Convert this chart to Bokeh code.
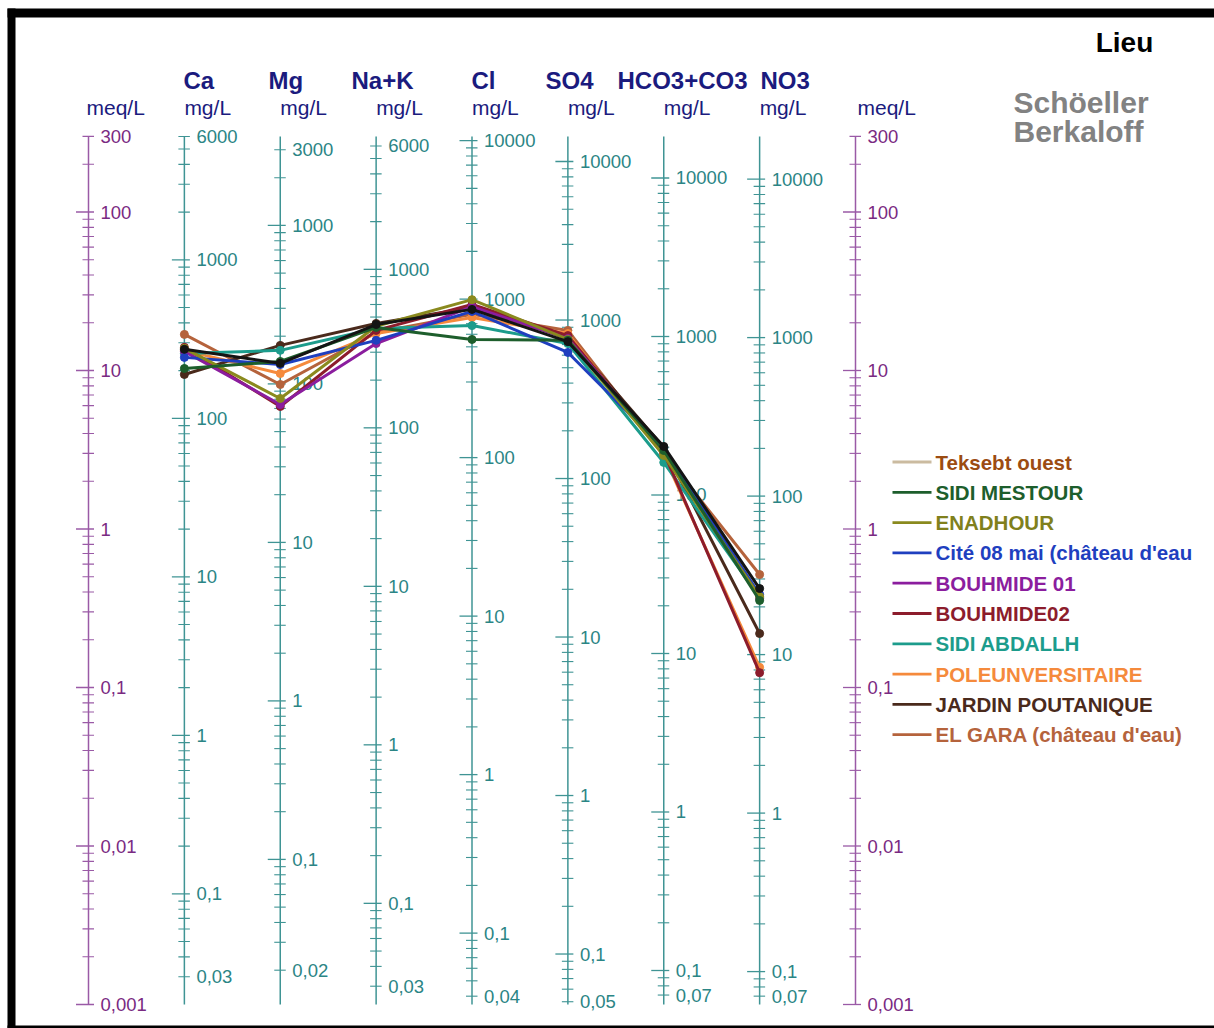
import numpy as np
from bokeh.plotting import figure
from bokeh.models import Range1d
from bokeh.embed import file_html
from bokeh.resources import INLINE
from bokeh.core.properties import value

# ---------------- data ----------------
ions = ["Ca", "Mg", "Na+K", "Cl", "SO4", "HCO3+CO3", "NO3"]
eq_weight = [20.04, 12.15, 23.0, 35.45, 48.03, 61.02, 62.0]   # mg per meq
axis_top_mg = [6000, 3000, 6000, 10000, 10000, 10000, 10000]
axis_bottom_mg = [0.03, 0.02, 0.03, 0.04, 0.05, 0.07, 0.07]
meq_top, meq_bottom = 300, 0.001

names = ["Teksebt ouest", "SIDI MESTOUR", "ENADHOUR", "Cité 08 mai  (château d'eau",
         "BOUHMIDE 01", "BOUHMIDE02", "SIDI ABDALLH", "POLEUNVERSITAIRE",
         "JARDIN POUTANIQUE", "EL GARA (château d'eau)"]

# values in meq/L  (Ca, Mg, Na+K, Cl, SO4, HCO3+CO3, NO3)
teksebt      = [13.6, 11.1, 19.5, 24.3, 15.2, 3.32, 0.421]
sidi_mestour = [10.3, 11.4, 18.7, 15.7, 15.5, 3.13, 0.354]
enadhour     = [13.8, 6.66, 19.0, 28.0, 15.7, 2.91, 0.375]
cite_08_mai  = [12.1, 10.9, 15.5, 23.6, 13.0, 3.22, 0.386]
bouhmide_01  = [13.2, 6.10, 14.8, 25.3, 15.9, 3.13, 0.364]
bouhmide_02  = [14.0, 5.93, 17.9, 26.1, 16.6, 3.04, 0.124]
sidi_abdallh = [12.8, 13.4, 18.4, 19.2, 14.8, 2.63, 0.370]
pole_univ    = [13.4, 9.57, 17.1, 21.6, 17.1, 2.91, 0.134]
jardin       = [9.44, 14.4, 19.8, 25.0, 16.4, 3.27, 0.219]
el_gara      = [16.9, 8.16, 17.4, 22.6, 17.9, 2.99, 0.516]
series = [teksebt, sidi_mestour, enadhour, cite_08_mai, bouhmide_01,
          bouhmide_02, sidi_abdallh, pole_univ, jardin, el_gara]

line_colors = ["#141414", "#1d5e2c", "#8a8a1e", "#1f3fbf", "#8b1d9e",
               "#8c1c2c", "#1c9c8c", "#f58a3c", "#4a2a1c", "#b5633c"]
swatch_colors = ["#cbbba0", "#1d5e2c", "#8a8a1e", "#1f3fbf", "#8b1d9e",
                 "#8c1c2c", "#1c9c8c", "#f58a3c", "#4a2a1c", "#b5633c"]
legend_text_colors = ["#9c4c12", "#1d5e2c", "#80801c", "#1f3fbf", "#8b1d9e",
                      "#8c1c2c", "#1c9c8c", "#f58a3c", "#4a2a1c", "#b5633c"]

# ---------------- layout helpers (page pixels -> data) ----------------
AX0, DX = 88.0, 95.875          # px of first axis, px between axes
Y0, DEC = 528.5, 158.5          # px of 1 meq/L, px per decade


def xd(px):
    return (px - AX0) / DX


def yd(py):
    return 10 ** ((Y0 - py) / DEC)


def fmt(v):
    return ("%g" % v).replace(".", ",")


W, H = 1214, 1028
p = figure(width=W, height=H, output_backend="svg", toolbar_location=None,
           y_axis_type="log", x_axis_location=None, y_axis_location=None,
           x_range=Range1d(xd(0), xd(W)), y_range=Range1d(yd(H), yd(0)),
           min_border=0, border_fill_color="white", background_fill_color="white",
           outline_line_color=None, tools="")
p.grid.visible = False

# black frame bands (top, left, bottom)
p.quad(left=[xd(7), xd(7), xd(7)], right=[xd(W), xd(15), xd(W)],
       top=[yd(8), yd(8), yd(1025)], bottom=[yd(17), yd(H), yd(H)],
       fill_color="black", line_color=None)

FONT = value("Liberation Sans")
MEQ_LINE, MEQ_TXT = "#9a5aa6", "#7a2a82"
MG_LINE, MG_TXT = "#3f9494", "#2b8585"

n_ax = len(ions) + 2   # left meq, ions, right meq


def draw_axis(xi, lo, hi, factor, line_c, txt_c, labels):
    p.segment(x0=[xi], y0=[meq_bottom], x1=[xi], y1=[meq_top], line_color=line_c, line_width=1.5)
    mj_x0, mj_x1, mj_y = [], [], []
    mn_x0, mn_x1, mn_y = [], [], []
    for k in range(int(np.floor(np.log10(lo))) - 1, int(np.ceil(np.log10(hi))) + 1):
        for m in range(1, 10):
            v = m * 10.0 ** k
            if v < lo * 0.999 or v > hi * 1.001:
                continue
            y = v / factor
            if m == 1:
                mj_x0.append(xi - 12.5 / DX); mj_x1.append(xi + 5.5 / DX); mj_y.append(y)
            else:
                mn_x0.append(xi - 6 / DX); mn_x1.append(xi + 5.5 / DX); mn_y.append(y)
    p.segment(x0=mj_x0, y0=mj_y, x1=mj_x1, y1=mj_y, line_color=line_c, line_width=1.3)
    p.segment(x0=mn_x0, y0=mn_y, x1=mn_x1, y1=mn_y, line_color=line_c, line_width=1.1)
    p.text(x=[xi + 12 / DX] * len(labels), y=[v / factor for v in labels],
           text=[fmt(v) for v in labels], text_font=FONT, text_font_size="18.5px",
           text_color=txt_c, text_baseline="middle", text_align="left")


meq_labels = [300, 100, 10, 1, 0.1, 0.01, 0.001]
draw_axis(0, meq_bottom, meq_top, 1.0, MEQ_LINE, MEQ_TXT, meq_labels)
draw_axis(n_ax - 1, meq_bottom, meq_top, 1.0, MEQ_LINE, MEQ_TXT, meq_labels)
for i, ion in enumerate(ions):
    lo, hi = axis_bottom_mg[i], axis_top_mg[i]
    labs = [hi] + [10.0 ** k for k in range(4, -2, -1) if lo < 10.0 ** k < hi] + [lo]
    draw_axis(i + 1, lo, hi, eq_weight[i], MG_LINE, MG_TXT, labs)

# ---------------- headers ----------------
header_px = [183, 268, 351, 471, 545, 617, 760]
p.text(x=[xd(v) for v in header_px], y=[yd(80)] * len(ions), text=ions, text_font=FONT,
       text_font_size="24px", text_font_style="bold", text_color="#1b1b7e",
       text_baseline="middle", text_align="left")
unit_txt = ["meq/L"] + ["mg/L"] * len(ions) + ["meq/L"]
unit_x = [xd(86)] + [i + 1 for i in range(len(ions))] + [xd(857)]
p.text(x=unit_x, y=[yd(107)] * len(unit_txt), text=unit_txt, text_font=FONT,
       text_font_size="21px", text_color="#1b1b7e", text_baseline="middle", text_align="left")

p.text(x=[xd(1124)], y=[yd(42)], text=["Lieu"], text_font=FONT, text_font_size="28px",
       text_font_style="bold", text_color="black", text_baseline="middle", text_align="center")
p.text(x=[xd(1013), xd(1013)], y=[yd(102), yd(131)], text=["Schöeller", "Berkaloff"],
       text_font=FONT, text_font_size="30px", text_font_style="bold", text_color="#828282",
       text_baseline="middle", text_align="left")

# ---------------- data lines ----------------
xs = list(range(1, len(ions) + 1))
for vals, c in reversed(list(zip(series, line_colors))):
    p.line(xs, vals, line_color=c, line_width=3)
    p.scatter(xs, vals, size=8, fill_color=c, line_color=c)

# ---------------- legend ----------------
for i, (nm, sc, tc) in enumerate(zip(names, swatch_colors, legend_text_colors)):
    ry = yd(461.5 + i * 30.3)
    p.segment(x0=[xd(892)], y0=[ry], x1=[xd(931)], y1=[ry], line_color=sc, line_width=2.8)
    p.text(x=[xd(935)], y=[ry], text=[nm], text_font=FONT, text_font_size="20.5px",
           text_font_style="bold", text_color=tc, text_baseline="middle", text_align="left")

open("out.html", "w").write(file_html(p, INLINE))
